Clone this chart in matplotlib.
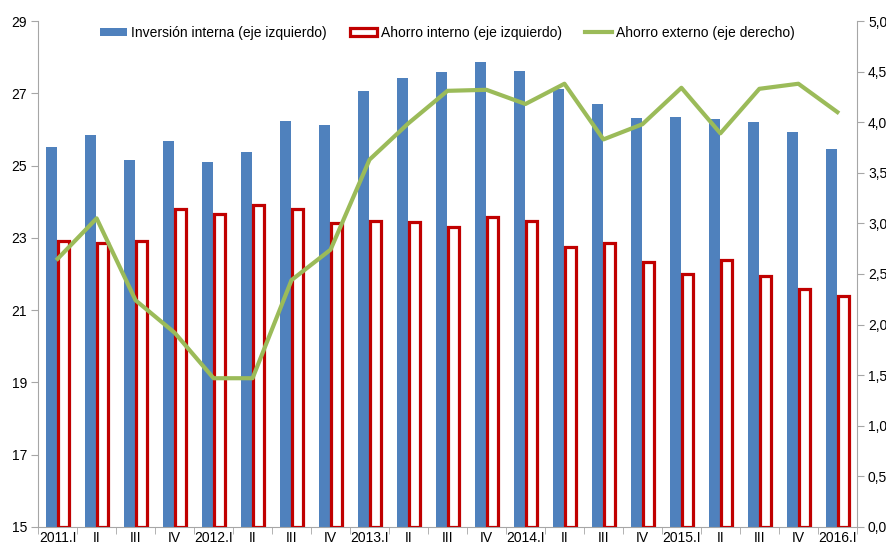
import numpy as np
import matplotlib.pyplot as plt
from matplotlib.ticker import FuncFormatter, FixedLocator

plt.rcParams['font.family'] = ['Liberation Sans', 'DejaVu Sans']

# --- Data ---
quarters = ['2011.I', 'II', 'III', 'IV', '2012.I', 'II', 'III', 'IV',
            '2013.I', 'II', 'III', 'IV', '2014.I', 'II', 'III', 'IV',
            '2015.I', 'II', 'III', 'IV', '2016.I']
inversion = [25.5, 25.85, 25.15, 25.68, 25.1, 25.38, 26.22, 26.12,
             27.06, 27.42, 27.6, 27.87, 27.63, 27.12, 26.7, 26.32,
             26.34, 26.29, 26.21, 25.93, 25.46]
ahorro_int = [22.9, 22.85, 22.92, 23.8, 23.65, 23.9, 23.8, 23.4,
              23.48, 23.45, 23.3, 23.58, 23.48, 22.75, 22.85, 22.32,
              22.0, 22.4, 21.95, 21.58, 21.4]
ahorro_ext = [2.65, 3.05, 2.24, 1.92, 1.47, 1.47, 2.44, 2.74,
              3.63, 3.99, 4.31, 4.32, 4.18, 4.38, 3.83, 3.98,
              4.34, 3.89, 4.33, 4.38, 4.1]

blue = '#4F81BD'
red = '#C00000'
green = '#9BBB59'
grey = '#A6A6A6'

x = np.arange(len(quarters))

fig = plt.figure(figsize=(8.87, 5.47), dpi=100)
ax = fig.add_axes([0.043, 0.0366, 0.923, 0.925])
ax2 = ax.twinx()

b1 = ax.bar(x - 0.155, [v - 15 for v in inversion], width=0.28, bottom=15,
            color=blue, label='Inversión interna (eje izquierdo)', zorder=2)
b2 = ax.bar(x + 0.15, [v - 15 for v in ahorro_int], width=0.28, bottom=15,
            facecolor='white', edgecolor=red, linewidth=2.3,
            label='Ahorro interno (eje izquierdo)', zorder=3)
l1, = ax2.plot(x, ahorro_ext, color=green, linewidth=3,
               label='Ahorro externo (eje derecho)', zorder=4)

ax.set_xlim(-0.5, len(quarters) - 0.5)
ax.set_ylim(15, 29)
ax.set_yticks(np.arange(15, 30, 2))
ax2.set_ylim(0, 5)
ax2.set_yticks(np.arange(0, 5.01, 0.5))
ax2.yaxis.set_major_formatter(FuncFormatter(lambda v, p: f'{v:.1f}'.replace('.', ',')))

ax.set_xticks(x)
ax.set_xticklabels(quarters)
ax.xaxis.set_minor_locator(FixedLocator(np.arange(-0.5, len(quarters), 1)))
ax.tick_params(axis='x', which='major', length=0, pad=3, labelsize=10)
ax.tick_params(axis='x', which='minor', length=5, color=grey, direction='out')
ax.tick_params(axis='y', length=5, color=grey, labelsize=10, pad=3)
ax2.tick_params(axis='y', length=5, color=grey, labelsize=10, pad=3)

for a in (ax, ax2):
    a.spines['top'].set_visible(False)
    for s in ('left', 'right', 'bottom'):
        a.spines[s].set_color(grey)
ax2.spines['left'].set_visible(False)
ax2.spines['bottom'].set_visible(False)
ax.spines['right'].set_visible(False)

ax.set_zorder(ax2.get_zorder() - 1)
ax2.patch.set_visible(False)

ax2.legend([b1, b2, l1], [b1.get_label(), b2.get_label(), l1.get_label()],
           loc='upper center', bbox_to_anchor=(0.5, 1.015), ncol=3,
           frameon=False, fontsize=10, handlelength=1.9, handleheight=0.6,
           columnspacing=1.7, handletextpad=0.3)

fig.savefig('out.png', dpi=100)
